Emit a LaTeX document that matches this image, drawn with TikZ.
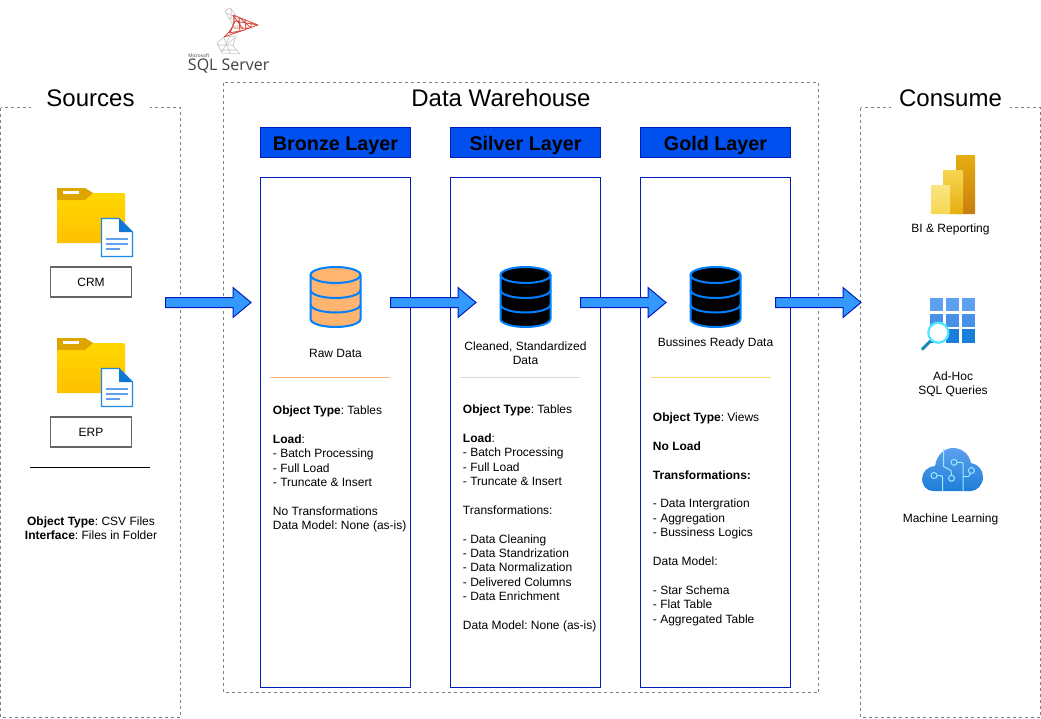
\documentclass[tikz,border=0pt]{standalone}
\usepackage{fontspec}
\setmainfont{Liberation Sans}
\newfontfamily\logofont{Open Sans}
\usetikzlibrary{calc}
\frenchspacing
\definecolor{hdrfill}{HTML}{0050EF}
\definecolor{hdrline}{HTML}{001DBC}
\definecolor{arrowfill}{HTML}{3399FF}
\definecolor{cylline}{HTML}{007FFF}
\definecolor{bronzefill}{HTML}{FFB570}
\definecolor{dashgray}{HTML}{808080}
\definecolor{ruleorange}{HTML}{FFB570}
\definecolor{rulepurple}{HTML}{E1D5E7}
\definecolor{ruleyellow}{HTML}{FFD966}
\definecolor{logored}{HTML}{D9483B}
\tikzset{
  x=0.75pt,y=-0.75pt,
  zonebox/.style={draw=dashgray,line width=0.75pt,dash pattern=on 2.25pt off 2.25pt},
  zonetitle/.style={fill=white,inner sep=0pt,minimum height=19.5pt,text height=13pt,text depth=0pt,font=\fontsize{18}{21.6}\selectfont},
  layerhead/.style={draw=hdrline,fill=hdrfill,line width=0.75pt,inner sep=0pt,minimum width=112.5pt,minimum height=22.5pt,text height=13pt,text depth=1pt,font=\fontsize{14.8}{18}\selectfont\bfseries,text=black},
  layerbox/.style={draw=hdrline,line width=0.75pt,inner sep=0pt,minimum width=112.5pt,minimum height=382.5pt},
  srcbox/.style={draw=black!60,line width=1pt,inner sep=0pt,minimum width=60.5pt,minimum height=22.5pt,font=\fontsize{9}{10.8}\selectfont},
  lbl/.style={inner sep=0pt,align=center,font=\fontsize{9}{10.8}\selectfont},
  body/.style={inner sep=0pt,align=left,anchor=north west,font=\fontsize{9}{10.8}\selectfont},
  blockarrow/.style={draw=hdrline,fill=arrowfill,line width=0.75pt,line join=miter},
}
% block arrow from named coordinate #1 to named coordinate #2 (tip)
\newcommand{\blockflow}[2]{%
  \draw[blockarrow] ($(#1)+(0,-5)$) -- ($(#2)+(-18,-5)$) -- ($(#2)+(-18,-15)$) -- (#2) -- ($(#2)+(-18,15)$) -- ($(#2)+(-18,5)$) -- ($(#1)+(0,5)$) -- cycle;}
% cylinder: centre x, fill colour
\newcommand{\dbicon}[2]{%
  \begin{scope}[shift={(#1,0)}]
    \draw[cylline,fill=#2,line width=1.5pt] (-25,275) arc[start angle=180,end angle=360,x radius=25,y radius=8]
      -- (25,319) arc[start angle=0,end angle=180,x radius=25,y radius=8] -- cycle;
    \draw[cylline,line width=1.5pt] (-25,275) arc[start angle=180,end angle=0,x radius=25,y radius=8];
    \draw[cylline,line width=1.5pt] (-25,290) arc[start angle=180,end angle=0,x radius=25,y radius=8];
    \draw[cylline,line width=1.5pt] (-25,304.5) arc[start angle=180,end angle=0,x radius=25,y radius=8];
  \end{scope}}
% folder with document: vertical offset
\newcommand{\foldericon}[1]{%
  \begin{scope}[shift={(0,#1)}]
    \shade[top color={rgb,255:red,255;green,216;blue,0},bottom color={rgb,255:red,255;green,191;blue,0}] (57,193) -- (124,193) -- (125,194) -- (125,243) -- (57,243) -- cycle;
    \fill[fill={rgb,255:red,222;green,165;blue,0}] (57,188) -- (85,188) -- (93,193) -- (85,200) -- (57,200) -- cycle;
    \fill[white] (63,191) rectangle (79,194);
    \draw[draw={rgb,255:red,30;green,136;blue,229},fill=white,line width=1pt] (101.5,218.5) -- (119,218.5) -- (132.5,232) -- (132.5,256.5) -- (101.5,256.5) -- cycle;
    \fill[fill={rgb,255:red,15;green,120;blue,212}] (119,218.5) -- (132.5,232) -- (119,232) -- cycle;
    \draw[draw={rgb,255:red,94;green,160;blue,239},line width=1.5pt] (105.5,239) -- (128,239) (105.5,244) -- (128,244) (105.5,248.5) -- (119.5,248.5);
  \end{scope}}
\begin{document}
\begin{tikzpicture}
\useasboundingbox (0,0) rectangle (1041,718);
\fill[white] (0,0) rectangle (1041,718);

% zones
\draw[zonebox] (0.5,107.5) rectangle (180.5,717);
\draw[zonebox] (223.5,82.5) rectangle (818.5,692.5);
\draw[zonebox] (860.5,107.5) rectangle (1040.5,717);
\node[zonetitle,minimum width=89.25pt] (srctitle) at (90.5,97.5) {Sources};
\node[zonetitle,minimum width=181.5pt] (dwtitle) at (501,97.5) {Data Warehouse};
\node[zonetitle,minimum width=89.25pt] (constitle) at (950.5,97.5) {Consume};

% SQL Server logo
\draw[black!25,line width=0.4pt,line join=round]
  (225,11) -- (230,8) -- (236,15) -- (241,24) -- (234,27) -- (229,18) -- cycle
  (226,13) -- (237,17) (229,18) -- (239,21) (231,8) -- (231,18) (235,15) -- (233,26)
  (224,37) -- (217,43) -- (222,53) -- (240,54) -- (233,46) -- (236,36) -- cycle
  (217,45) -- (233,45) (220,50) -- (236,50) (224,38) -- (230,53) (230,36) -- (222,52) (235,38) -- (226,45);
\draw[logored,line width=0.6pt,line join=round]
  (233,15) -- (258,25) -- (224,37) .. controls (232,30) and (236,22) .. (233,15)
  (235,21) -- (258,25) (233,28) -- (251,28) (229,33) -- (245,30)
  (239,17) -- (240,32) (245,19.5) -- (246,29.5) (251,22) -- (251,28)
  (233,15) -- (243,29) (235,21) -- (230,33) (239,17) -- (250,27);
\node[inner sep=0pt,anchor=west,text=black!75,font=\logofont\fontsize{3.6}{4}\selectfont] (mslogo) at (188,55.8) {Microsoft};
\node[inner sep=0pt,anchor=west,text=black!75,font=\logofont\fontsize{12}{14}\selectfont] (sqllogo) at (187.7,66) {SQL Server};

% layers
\node[layerhead] (bronzehead) at (335.5,142.5) {Bronze Layer};
\node[layerhead] (silverhead) at (525.5,142.5) {Silver Layer};
\node[layerhead] (goldhead) at (715.5,142.5) {Gold Layer};
\node[layerbox] (bronzebox) at (335.5,432.5) {};
\node[layerbox] (silverbox) at (525.5,432.5) {};
\node[layerbox] (goldbox) at (715.5,432.5) {};

% sources
\foldericon{0}
\foldericon{150}
\node[srcbox] (crm) at (91,282) {CRM};
\node[srcbox] (erp) at (91,432) {ERP};
\coordinate (rulea) at (30,467);
\coordinate (ruleb) at (150,467);
\draw[black,line width=0.75pt] (rulea) -- (ruleb);
\node[lbl] (srcnote) at (91,528) {\textbf{Object Type}: CSV Files\\\textbf{Interface}: Files in Folder};

% cylinders
\dbicon{335.5}{bronzefill}
\dbicon{525.5}{black}
\dbicon{715.5}{black}
\node[lbl] (rawlbl) at (335.5,353) {Raw Data};
\node[lbl] (cleanlbl) at (525.5,353) {Cleaned, Standardized\\Data};
\node[lbl] (readylbl) at (715.5,343) {Bussines Ready Data};
\draw[ruleorange,line width=0.75pt] (270,377) -- (390,377);
\draw[rulepurple,line width=0.75pt] (460,377) -- (580,377);
\draw[ruleyellow,line width=0.75pt] (651,377) -- (771,377);

% texts
\node[body] (bronzetxt) at (272.7,405.5) {\textbf{Object Type}: Tables\\~\\\textbf{Load}:\\- Batch Processing\\- Full Load\\- Truncate \& Insert\\~\\No Transformations\\Data Model: None (as-is)};
\node[body] (silvertxt) at (462.7,404.5) {\textbf{Object Type}: Tables\\~\\\textbf{Load}:\\- Batch Processing\\- Full Load\\- Truncate \& Insert\\~\\Transformations:\\~\\- Data Cleaning\\- Data Standrization\\- Data Normalization\\- Delivered Columns\\- Data Enrichment\\~\\Data Model: None (as-is)};
\node[body] (goldtxt) at (652.7,412.5) {\textbf{Object Type}: Views\\~\\\textbf{No Load}\\~\\\textbf{Transformations:}\\~\\- Data Intergration\\- Aggregation\\- Bussiness Logics\\~\\Data Model:\\~\\- Star Schema\\- Flat Table\\- Aggregated Table};

% block arrows
\coordinate (f1a) at (165.5,302.5); \coordinate (f1b) at (251,302.5);
\coordinate (f2a) at (390.5,302.5); \coordinate (f2b) at (476,302.5);
\coordinate (f3a) at (580.5,302.5); \coordinate (f3b) at (666,302.5);
\coordinate (f4a) at (775.5,302.5); \coordinate (f4b) at (861,302.5);
\blockflow{f1a}{f1b}
\blockflow{f2a}{f2b}
\blockflow{f3a}{f3b}
\blockflow{f4a}{f4b}

% Power BI icon
\shade[top color={rgb,255:red,230;green,173;blue,16},bottom color={rgb,255:red,200;green,126;blue,14},rounded corners=0.5pt] (956,155) rectangle (975,214);
\shade[top color={rgb,255:red,246;green,215;blue,81},bottom color={rgb,255:red,230;green,173;blue,16},rounded corners=0.5pt] (943,170) rectangle (963,214);
\shade[top color={rgb,255:red,249;green,229;blue,131},bottom color={rgb,255:red,246;green,215;blue,81},rounded corners=0.5pt] (931,185) rectangle (950,214);
\node[lbl] (bilbl) at (950.5,229.5) {BI \& Reporting};

% Ad-hoc icon
\foreach \cx in {930,946,961.7}{
  \fill[fill={rgb,255:red,94;green,160;blue,239}] (\cx,298) rectangle ++(13.3,13.2);
  \fill[fill={rgb,255:red,70;green,145;blue,230}] (\cx,313.5) rectangle ++(13.3,13.2);
  \fill[fill={rgb,255:red,25;green,127;blue,218}] (\cx,329.2) rectangle ++(13.3,13.5);
}
\draw[draw={rgb,255:red,25;green,138;blue,179},line width=2.25pt,line cap=round] (930.5,341) -- (922.5,349);
\draw[draw={rgb,255:red,80;green,230;blue,255},fill=white,line width=1.7pt] (938.3,332.7) circle[radius=10];
\node[lbl] (adhoclbl) at (953,384) {Ad-Hoc\\SQL Queries};

% cloud icon
\shade[top color={rgb,255:red,94;green,160;blue,239},bottom color={rgb,255:red,30;green,125;blue,215}]
  (934,491) .. controls (925,491) and (922,484) .. (922,479) .. controls (922,472) and (928,466) .. (935,466)
  .. controls (937,454) and (945,448) .. (953,448) .. controls (962,448) and (969,454) .. (971,463)
  .. controls (978,464) and (983,470) .. (983,477) .. controls (983,485) and (977,491) .. (971,491) -- cycle;
\begin{scope}[draw={rgb,255:red,156;green,235;blue,255},line width=0.75pt]
  \draw (943.5,449) -- (943.5,466.5) -- (951,470.5) -- (951.5,475);
  \draw (951.5,478.3) circle[radius=3];
  \draw (934,475.5) circle[radius=3] (937,475.5) -- (941,475.5) -- (942.7,477) -- (942.7,491);
  \draw (954,462.3) circle[radius=3] (957,462.3) -- (962,462.3) -- (963,463.5) -- (963,491);
  \draw (971.4,470.5) circle[radius=3] (970.5,473.5) -- (968.5,476.7) -- (963,476.7);
\end{scope}
\node[lbl] (mllbl) at (950.5,519) {Machine Learning};
\end{tikzpicture}
\end{document}
